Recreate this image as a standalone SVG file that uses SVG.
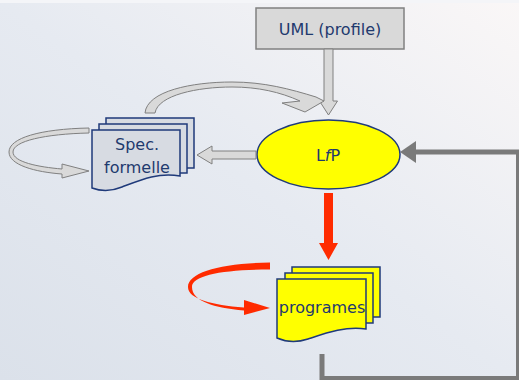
<svg xmlns="http://www.w3.org/2000/svg" width="519" height="380" viewBox="0 0 519 380">
  <defs>
    <linearGradient id="bg" x1="0" y1="1" x2="1" y2="0">
      <stop offset="0" stop-color="#dbe1ea"/>
      <stop offset="0.5" stop-color="#e6eaf1"/>
      <stop offset="1" stop-color="#faf7f7"/>
    </linearGradient>
    <style>
      .lbl { font-family: "DejaVu Sans", "Liberation Sans", sans-serif; font-size: 16px; fill: #1f3a6e; text-anchor: middle; }
      .doc-grey { fill: #d7dbe2; stroke: #1f3a7a; stroke-width: 1.5; }
      .doc-yel { fill: #ffff00; stroke: #1f3a7a; stroke-width: 1.5; }
      .grey-arrow { fill: #d9d9d9; stroke: #808080; stroke-width: 1; stroke-linejoin: round; }
      .red-arrow { fill: #ff2b00; stroke: none; }
      .loop { fill: none; stroke: #7a7a7a; stroke-width: 5; }
    </style>
  </defs>

  <!-- backdrop -->
  <rect x="0" y="0" width="519" height="380" fill="url(#bg)"/>
  <rect x="0" y="0" width="519" height="3" fill="#f4f5f8"/>

  <!-- UML profile box -->
  <g id="uml">
    <rect x="256" y="8" width="148" height="41" fill="#d9d9d9" stroke="#808080" stroke-width="1.5"/>
    <text class="lbl" x="330" y="35">UML (profile)</text>
  </g>

  <!-- LfP ellipse -->
  <g id="lfp">
    <ellipse cx="328.5" cy="154.5" rx="71.5" ry="34.5" fill="#ffff00" stroke="#1f3a7a" stroke-width="1.5"/>
    <text class="lbl" x="328" y="161">L<tspan font-style="italic">f</tspan>P</text>
  </g>

  <!-- Spec. formelle document stack -->
  <g id="spec">
    <rect class="doc-grey" x="106" y="118" width="88" height="50"/>
    <rect class="doc-grey" x="99" y="124" width="88" height="49"/>
    <path class="doc-grey" d="M92 130 H180 V176 C158 172 140 180 122 187 C110 192 100 191 92 188 Z"/>
    <text class="lbl" x="137" y="150">Spec.</text>
    <text class="lbl" x="137" y="173">formelle</text>
  </g>

  <!-- programes document stack -->
  <g id="programes">
    <rect class="doc-yel" x="292" y="267" width="88" height="50"/>
    <rect class="doc-yel" x="285" y="273" width="88" height="50"/>
    <path class="doc-yel" d="M277 279 H366 V329 C345 326 326 333 308 339 C296 343 286 342 277 338 Z"/>
    <text class="lbl" x="322" y="313">programes</text>
  </g>

  <!-- connectors -->
  <g id="connectors">
    <!-- UML -> LfP -->
    <path class="grey-arrow" d="M324 49 H333 V101 H337.5 L328.5 115 L319.5 101 H324 Z"/>
    <!-- LfP -> Spec -->
    <path class="grey-arrow" d="M256 151 H212 V146 L197 155 L212 164 V159 H256 Z"/>
    <!-- Spec -> LfP (curved over the top) -->
    <path class="grey-arrow" d="M145 113 C147 91 192 82 232 82 C264 82 290 89 316 97 L324 101 L305 112 L282 103 L300 101 C280 92 258 87 232 87 C198 87 158 95 155 113 Z"/>
    <!-- Spec self loop -->
    <path class="grey-arrow" d="M89 128 C40 129 9 138 9 152 C9 165 35 172 62 174 L62 178 L89 171 L62 164 L62 169 C38 167 13 162 13 152 C13 141 45 134 89 133 Z"/>
    <!-- LfP -> programes -->
    <path class="red-arrow" d="M324 193 H333 V243 H338 L328.5 260 L319 243 H324 Z"/>
    <!-- programes self loop -->
    <path class="red-arrow" d="M270 262.5 C222 263 188 272 188 287 C188 299 212 305 244 307.5 L244 300 L270 308 L244 315 L244 310.5 C214 308 192 301 192 287 C192 275 224 269.5 270 269.5 Z"/>
    <!-- feedback loop programes -> LfP -->
    <path class="loop" d="M322 354 V378.5 H518.5 V152 H414"/>
    <path d="M400 152 L416 141 L416 163 Z" fill="#7a7a7a"/>
  </g>
</svg>
